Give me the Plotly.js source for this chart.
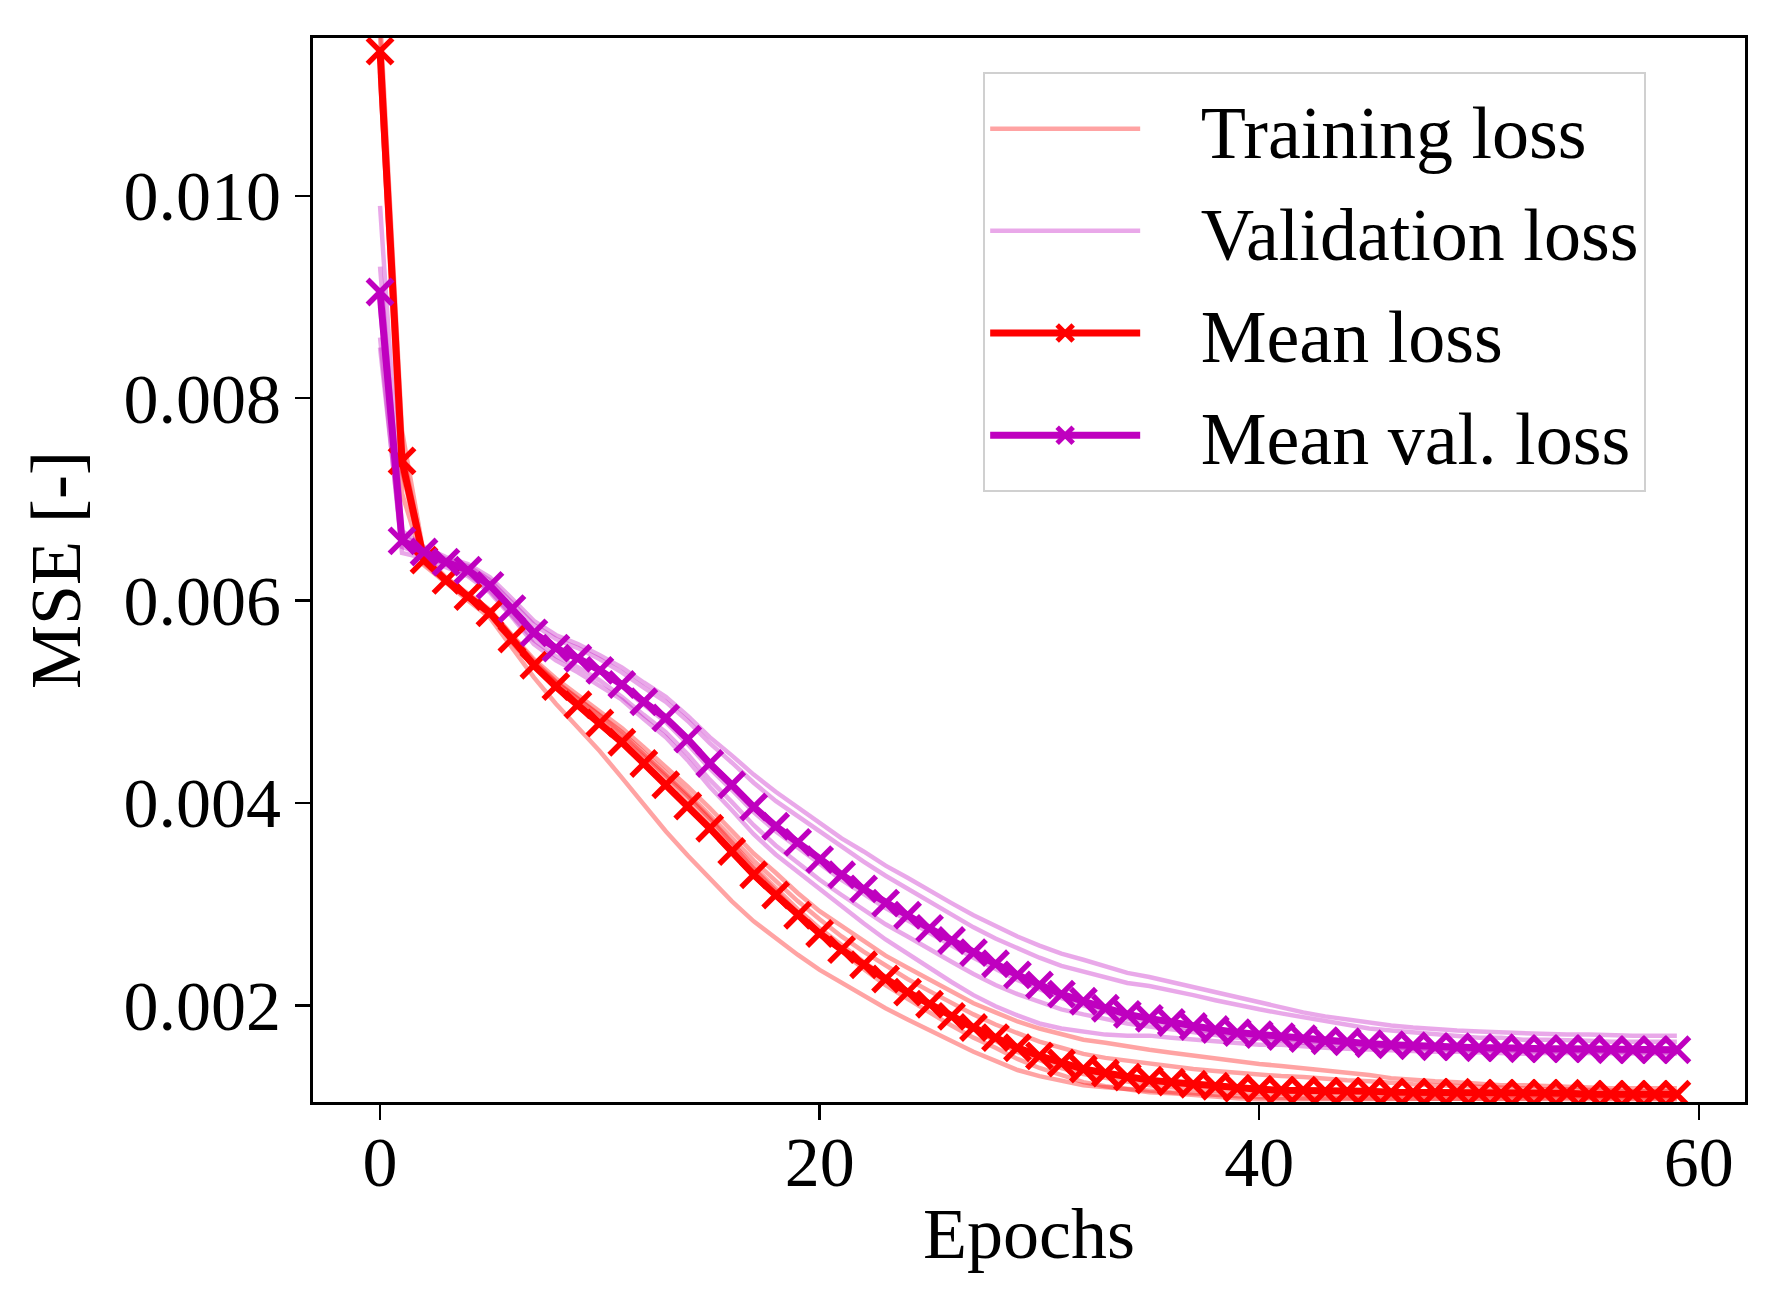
<!DOCTYPE html>
<html>
<head>
<meta charset="utf-8">
<script src="https://cdn.plot.ly/plotly-3.0.1.min.js"></script>
<style>
  html, body { margin: 0; padding: 0; background: #fff; }
  #chart { width: 1779px; height: 1301px; }
</style>
</head>
<body>
<div id="chart"></div>
<script>
// MSE, stored in units of 1e-5
const UNIT = 1e-5;

const epochs = [0, 1, 2, 3, 4, 5, 6, 7, 8, 9, 10, 11, 12, 13, 14, 15, 16, 17, 18, 19,
  20, 21, 22, 23, 24, 25, 26, 27, 28, 29, 30, 31, 32, 33, 34, 35, 36, 37, 38, 39,
  40, 41, 42, 43, 44, 45, 46, 47, 48, 49, 50, 51, 52, 53, 54, 55, 56, 57, 58, 59];

// training loss of each run
const trainRun1 = [1178, 768, 645, 623, 607, 591, 566, 542, 523, 507, 491, 474, 455, 436, 416, 395, 373, 350, 331, 311,
  293, 278, 263, 249, 237, 225, 213, 202, 193, 184, 177, 171, 166, 163, 159, 156, 153, 150, 147, 144,
  142, 140, 138, 135, 133, 131, 128, 126, 125, 124, 122, 121, 121, 120, 120, 119, 118, 118, 118, 118];
const trainRun2 = [1158, 750, 643, 622, 606, 590, 565, 540, 520, 503, 487, 470, 450, 430, 410, 388, 366, 343, 323, 303,
  285, 268, 253, 239, 226, 214, 202, 191, 181, 172, 164, 158, 152, 148, 145, 142, 140, 137, 135, 133,
  131, 130, 129, 127, 126, 125, 123, 122, 121, 120, 119, 118, 118, 117, 117, 116, 115, 115, 115, 115];
const trainRun3 = [1138, 738, 639, 619, 603, 586, 562, 538, 519, 503, 486, 468, 448, 428, 407, 385, 361, 337, 316, 295,
  276, 259, 243, 228, 214, 201, 188, 176, 165, 154, 146, 138, 132, 128, 124, 121, 119, 117, 116, 114,
  113, 112, 112, 112, 112, 112, 111, 111, 111, 112, 111, 111, 111, 111, 111, 110, 110, 110, 110, 110];
const trainRun4 = [1118, 728, 637, 618, 602, 586, 559, 534, 514, 497, 481, 464, 445, 425, 405, 383, 359, 335, 313, 291,
  271, 253, 236, 220, 206, 193, 180, 168, 158, 147, 138, 131, 124, 120, 117, 114, 113, 111, 110, 108,
  107, 107, 107, 107, 107, 108, 107, 108, 108, 108, 108, 108, 108, 108, 109, 108, 108, 108, 108, 108];
const trainRun5 = [1123, 706, 635, 617, 600, 583, 554, 524, 498, 475, 451, 425, 398, 372, 348, 325, 303, 283, 266, 250,
  235, 222, 209, 197, 186, 175, 164, 154, 145, 136, 130, 125, 121, 119, 117, 115, 114, 113, 111, 110,
  109, 108, 108, 108, 108, 108, 108, 108, 108, 108, 107, 108, 108, 108, 108, 107, 107, 107, 107, 107];

// validation loss of each run
const valRun1 = [990, 669, 653, 643, 636, 623, 602, 580, 566, 557, 546, 534, 519, 505, 486, 465, 447, 428, 411, 396,
  380, 365, 352, 338, 326, 313, 301, 289, 278, 268, 259, 251, 245, 238, 232, 228, 223, 217, 212, 207,
  202, 197, 193, 189, 186, 182, 180, 178, 176, 175, 174, 173, 172, 172, 171, 171, 170, 170, 170, 170];
const valRun2 = [930, 665, 651, 641, 634, 620, 598, 576, 562, 553, 542, 529, 514, 500, 481, 459, 440, 420, 402, 387,
  371, 356, 342, 328, 315, 302, 290, 277, 266, 256, 247, 239, 233, 227, 222, 219, 215, 210, 205, 200,
  196, 192, 188, 184, 181, 177, 175, 173, 171, 170, 168, 168, 166, 166, 166, 165, 164, 164, 164, 164];
const valRun3 = [890, 661, 649, 638, 630, 614, 590, 566, 551, 542, 530, 515, 497, 480, 458, 434, 413, 391, 372, 356,
  339, 324, 310, 296, 284, 271, 259, 247, 236, 225, 216, 207, 200, 193, 187, 184, 180, 176, 173, 170,
  168, 166, 164, 163, 162, 160, 159, 158, 157, 157, 156, 156, 155, 155, 155, 155, 154, 154, 154, 154];
const valRun4 = [850, 653, 645, 635, 626, 610, 586, 561, 545, 534, 521, 505, 487, 470, 448, 423, 401, 378, 358, 341,
  324, 309, 295, 280, 268, 255, 243, 231, 220, 211, 203, 196, 191, 186, 182, 179, 176, 173, 171, 168,
  167, 165, 163, 161, 161, 159, 158, 157, 156, 156, 155, 155, 154, 154, 154, 154, 153, 153, 153, 153];
const valRun5 = [860, 647, 642, 633, 624, 608, 584, 557, 541, 529, 516, 502, 483, 465, 442, 416, 393, 369, 349, 332,
  314, 297, 281, 265, 251, 236, 223, 210, 199, 190, 182, 177, 174, 171, 170, 170, 168, 166, 164, 162,
  161, 161, 159, 158, 157, 156, 155, 154, 154, 154, 153, 153, 152, 153, 153, 153, 152, 152, 152, 152];

// means over the runs
const meanLoss = [1143, 738, 640, 620, 604, 588, 562, 536, 515, 497, 479, 460, 439, 418, 397, 375, 352, 329, 309, 289,
  271, 255, 240, 226, 213, 201, 189, 178, 168, 158, 150, 143, 137, 133, 129, 126, 124, 122, 120, 118,
  117, 116, 116, 115, 115, 115, 114, 114, 114, 114, 113, 113, 113, 113, 113, 112, 112, 112, 112, 112];
const meanValLoss = [905, 659, 648, 638, 630, 615, 592, 568, 553, 543, 531, 517, 500, 484, 463, 439, 418, 396, 377, 361,
  344, 329, 315, 301, 289, 276, 264, 252, 241, 230, 220, 211, 204, 197, 191, 187, 183, 179, 176, 173,
  171, 169, 167, 165, 164, 162, 161, 160, 159, 159, 158, 158, 157, 157, 157, 157, 156, 156, 156, 156];

const yTicks = [0.002, 0.004, 0.006, 0.008, 0.010];
const xTicks = [0, 20, 40, 60];

const FONT = 'Liberation Serif, serif';
const RED = '#ff0000';
const MAGENTA = '#bf00bf';
const GAP = '\u00a0\u00a0\u00a0';  // space between legend sample and label

const toMse = arr => arr.map(v => v * UNIT);

const traces = [];

[trainRun1, trainRun2, trainRun3, trainRun4, trainRun5].forEach((run, i) => {
  traces.push({
    x: epochs, y: toMse(run),
    type: 'scatter', mode: 'lines',
    name: GAP + 'Training loss', legendgroup: 'train', showlegend: i === 0,
    line: { color: 'rgba(255,0,0,0.36)', width: 4.5 }
  });
});

[valRun1, valRun2, valRun3, valRun4, valRun5].forEach((run, i) => {
  traces.push({
    x: epochs, y: toMse(run),
    type: 'scatter', mode: 'lines',
    name: GAP + 'Validation loss', legendgroup: 'val', showlegend: i === 0,
    line: { color: 'rgba(191,0,191,0.34)', width: 4.5 }
  });
});

traces.push({
  x: epochs, y: toMse(meanLoss),
  type: 'scatter', mode: 'lines+markers',
  name: GAP + 'Mean loss', legendgroup: 'mean',
  line: { color: RED, width: 7 },
  marker: { symbol: 'x-thin', size: 25, color: RED, line: { color: RED, width: 5.5 } }
});

traces.push({
  x: epochs, y: toMse(meanValLoss),
  type: 'scatter', mode: 'lines+markers',
  name: GAP + 'Mean val. loss', legendgroup: 'meanval',
  line: { color: MAGENTA, width: 7 },
  marker: { symbol: 'x-thin', size: 25, color: MAGENTA, line: { color: MAGENTA, width: 5.5 } }
});

const axisCommon = {
  showgrid: false,
  zeroline: false,
  showline: true,
  linecolor: '#000',
  linewidth: 3,
  mirror: true,
  ticks: 'outside',
  ticklen: 15,
  tickwidth: 2.5,
  tickcolor: '#000',
  tickfont: { family: FONT, size: 70, color: '#000' }
};

const layout = {
  width: 1779,
  height: 1301,
  margin: { l: 313, r: 34, t: 38, b: 199, pad: 0 },
  paper_bgcolor: '#ffffff',
  plot_bgcolor: '#ffffff',
  font: { family: FONT, size: 70, color: '#000' },
  xaxis: {
    ...axisCommon,
    range: [-3.05, 62.1],
    tickvals: xTicks,
    ticklabelstandoff: -18,
    title: { text: 'Epochs', font: { family: FONT, size: 72 }, standoff: 8 }
  },
  yaxis: {
    ...axisCommon,
    range: [0.001044, 0.01156],
    tickvals: yTicks,
    tickformat: '.3f',
    title: { text: 'MSE [-]', font: { family: FONT, size: 72 }, standoff: 20 }
  },
  legend: {
    x: 0.468, y: 0.968,
    xanchor: 'left', yanchor: 'top',
    bgcolor: 'rgba(255,255,255,0.8)',
    bordercolor: '#d0d0d0',
    borderwidth: 2,
    font: { family: FONT, size: 74, color: '#000' },
    itemwidth: 150,
    tracegroupgap: 3
  },
  showlegend: true
};

Plotly.newPlot('chart', traces, layout, { displayModeBar: false, staticPlot: true });
</script>
</body>
</html>
